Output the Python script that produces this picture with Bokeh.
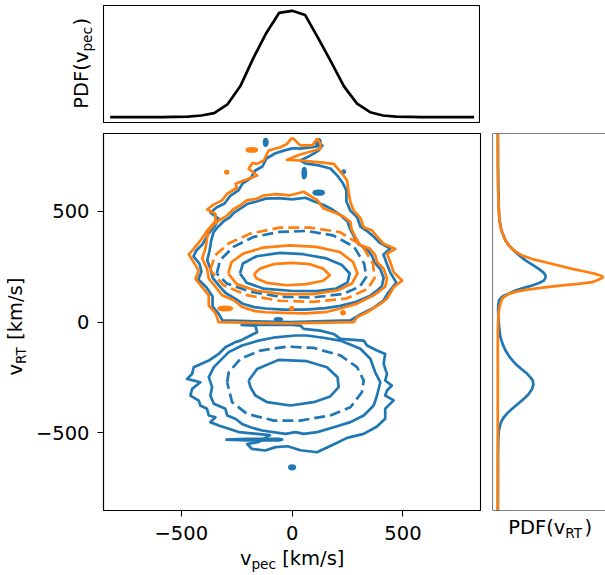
import math
from bokeh.plotting import figure
from bokeh.models import Range1d, FixedTicker, Span
from bokeh.layouts import row, column
from bokeh.core.properties import value
from bokeh.embed import file_html
from bokeh.resources import INLINE

BLUE = "#1f77b4"
ORANGE = "#ff7f0e"
FONT = "DejaVu Sans"
FS = "19.5px"
SFS = "13.65px"

# ---------------- data ----------------
X_TICKS = [-500, 0, 500]
X_TICK_LABELS = ["\u2212500", "0", "500"]
Y_TICKS = [-500, 0, 500]
Y_TICK_LABELS = ["\u2212500", "0", "500"]

# top marginal: PDF(v_pec)
TOP_X = [-821, -762, -703, -645, -586, -528, -469, -410, -352, -293, -234, -176, -117, -59, 0,
         59, 117, 176, 234, 293, 352, 410, 469, 528, 586, 645, 703, 762, 821]
TOP_PDF = [0.0, 0.0, 0.0, 0.001, 0.001, 0.002, 0.005, 0.016, 0.038, 0.117, 0.29, 0.55, 0.79, 0.98, 1.0,
           0.96, 0.745, 0.52, 0.29, 0.127, 0.047, 0.016, 0.005, 0.002, 0.001, 0.0, 0.0, 0.0, 0.0]

# right marginal: PDF(v_RT)
RT_Y_ORANGE = [850, 700, 600, 489, 429, 384, 360, 339, 320, 301, 285, 271, 256, 241, 228, 218, 210, 203,
               195, 188, 181, 173, 166, 156, 146, 137, 128, 115, 105, 85, 68, 40, 8, -38, -850]
RT_PDF_ORANGE = [0.002, 0.003, 0.005, 0.013, 0.028, 0.06, 0.09, 0.123, 0.17, 0.234, 0.33, 0.456, 0.58,
                 0.709, 0.84, 0.931, 0.985, 1.0, 0.975, 0.94, 0.899, 0.77, 0.614, 0.43, 0.266, 0.17,
                 0.108, 0.065, 0.044, 0.028, 0.019, 0.01, 0.006, 0.003, 0.002]
RT_Y_BLUE = [850, 700, 600, 520, 459, 414, 369, 345, 324, 300, 279, 260, 241, 225, 211, 200, 188, 177,
             166, 155, 143, 130, 120, 108, 98, 75, 53, 25, -7, -40, -68, -100, -128, -160, -188, -212,
             -233, -250, -263, -282, -301, -325, -346, -370, -391, -410, -429, -445, -459, -489, -530,
             -600, -850]
RT_PDF_BLUE = [0.004, 0.005, 0.008, 0.012, 0.019, 0.038, 0.076, 0.11, 0.155, 0.21, 0.266, 0.33, 0.392,
               0.435, 0.456, 0.455, 0.44, 0.395, 0.329, 0.25, 0.171, 0.11, 0.06, 0.03, 0.013, 0.008,
               0.006, 0.008, 0.013, 0.02, 0.028, 0.05, 0.076, 0.12, 0.171, 0.23, 0.282, 0.315, 0.335,
               0.34, 0.329, 0.295, 0.25, 0.19, 0.139, 0.095, 0.06, 0.04, 0.028, 0.013, 0.007, 0.005,
               0.004]

# ---- contours (vpec, vRT) in km/s ----
# orange, upper lobe
O_IN_X = [-172, -145, -85, -2, 80, 140, 170, 140, 65, -25, -115, -160, -172]
O_IN_Y = [217, 242, 262, 268, 262, 242, 212, 187, 172, 167, 178, 197, 217]
O_2_X = [-288, -273, -220, -130, -10, 110, 215, 275, 295, 270, 210, 95, -40, -160, -250, -288]
O_2_Y = [220, 272, 310, 337, 347, 340, 317, 272, 220, 175, 145, 127, 127, 142, 172, 220]
O_DASH_X = [-370, -347, -287, -190, -55, 80, 215, 315, 365, 372, 340, 245, 95, -55, -205, -310, -370]
O_DASH_Y = [235, 302, 355, 400, 427, 427, 407, 347, 265, 200, 150, 107, 92, 97, 122, 167, 235]
O_MID_X = [-8, 52, 113, 143, 203, 233, 263, 268, 285, 305, 350, 375, 383, 413, 428, 420, 390, 368, 293,
           218, 158, 60, -40, -120, -166, -226, -263, -316, -346, -376, -384, -406, -391, -384, -376,
           -355, -330, -295, -265, -235, -205, -160, -130, -70, -8]
O_MID_Y = [573, 589, 551, 513, 491, 476, 453, 420, 385, 350, 333, 303, 272, 242, 197, 160, 137, 122, 84,
           62, 47, 40, 42, 45, 50, 69, 99, 122, 160, 197, 242, 288, 333, 378, 415, 440, 460, 480, 510,
           527, 550, 557, 572, 578, 573]
O_OUT_X = [0, -23, -53, -106, -128, -158, -180, -196, -158, -218, -255, -248, -293, -316, -354, -383,
           -346, -346, -383, -414, -444, -466, -444, -421, -436, -406, -376, -376, -346, -331, -23, 278,
           293, 338, 398, 428, 458, 496, 458, 443, 428, 466, 413, 383, 361, 323, 308, 278, 263, 255,
           248, 226, 188, 128, 37, -23, 37, 128, 128, 113, 90, 37, 15, 0]
O_OUT_Y = [833, 805, 790, 775, 730, 715, 718, 693, 662, 640, 625, 607, 580, 550, 531, 509, 489, 456,
           414, 368, 331, 306, 271, 233, 196, 158, 121, 75, 41, 0, -5, 0, 23, 45, 83, 106, 158, 188,
           226, 271, 309, 331, 354, 387, 414, 429, 471, 504, 542, 587, 640, 670, 715, 722, 730, 733,
           757, 783, 805, 828, 798, 798, 820, 833]

# blue, upper lobe
B_IN_T_X = [-235, -222, -160, -55, 50, 155, 225, 260, 250, 200, 110, -10, -130, -205, -235]
B_IN_T_Y = [220, 265, 298, 313, 307, 288, 258, 220, 180, 152, 140, 142, 152, 178, 220]
B_DASH_T_X = [-340, -325, -265, -175, -55, 65, 185, 280, 325, 335, 305, 225, 95, -55, -190, -295, -340]
B_DASH_T_Y = [220, 280, 340, 385, 408, 412, 392, 340, 265, 205, 160, 127, 112, 115, 138, 175, 220]
B_MID_T_X = [0, 60, 100, 140, 180, 220, 250, 262, 280, 300, 338, 360, 372, 398, 413, 405, 380, 350, 290,
             218, 150, 60, -40, -120, -170, -220, -255, -300, -330, -358, -368, -383, -372, -365, -355,
             -335, -310, -280, -262, -230, -200, -160, -120, -60, 0]
B_MID_T_Y = [555, 562, 545, 530, 510, 482, 455, 420, 385, 352, 330, 300, 270, 240, 200, 162, 140, 118,
             92, 74, 64, 57, 57, 62, 68, 82, 105, 132, 165, 200, 240, 280, 325, 370, 405, 430, 455, 475,
             495, 515, 535, 545, 558, 560, 555]
B_OUT_T_X = [6, -30, -75, -116, -134, -166, -188, -224, -242, -278, -305, -341, -368, -332, -350, -377,
             -405, -432, -445, -418, -409, -423, -386, -359, -359, -332, -314, -8, 263, 308, 362, 412,
             434, 470, 443, 425, 412, 443, 394, 362, 335, 308, 294, 263, 245, 245, 227, 204, 173, 119,
             60, 37, 74, 119, 137, 83, 37, 6]
B_OUT_T_Y = [786, 777, 763, 739, 703, 685, 649, 626, 595, 572, 536, 518, 495, 468, 432, 400, 351, 324,
             297, 265, 229, 193, 157, 116, 71, 39, 8, 0, 8, 35, 62, 98, 134, 179, 224, 270, 306, 333,
             360, 392, 414, 432, 473, 504, 545, 595, 631, 662, 694, 708, 717, 730, 748, 775, 798, 789,
             784, 786]

# blue, lower lobe
B_IN_B_X = [-196, -158, -61, 67, 157, 205, 210, 172, 97, -8, -113, -166, -188, -196]
B_IN_B_Y = [-263, -211, -170, -176, -203, -248, -293, -335, -361, -376, -361, -331, -293, -263]
B_DASH_B_X = [-293, -286, -233, -143, -23, 97, 218, 293, 323, 315, 263, 172, 37, -83, -203, -271, -293]
B_DASH_B_Y = [-271, -226, -165, -128, -110, -116, -150, -203, -263, -316, -384, -421, -444, -444, -414,
              -361, -271]
B_MID_B_X = [15, 67, 140, 218, 308, 353, 375, 398, 383, 368, 323, 263, 188, 113, 52, 15, -30, -136, -188,
             -226, -256, -293, -301, -353, -369, -361, -376, -353, -331, -286, -226, -151, -75, 15]
B_MID_B_Y = [-60, -60, -70, -83, -120, -165, -226, -271, -331, -376, -421, -451, -474, -496, -504, -496,
             -504, -489, -474, -459, -436, -421, -391, -368, -331, -293, -248, -203, -180, -135, -105,
             -83, -68, -60]
B_OUT_B_X = [-233, -166, -158, -188, -233, -256, -301, -331, -376, -444, -451, -474, -414, -451, -459,
             -421, -414, -384, -376, -346, -369, -331, -286, -241, -170, -100, -150, -203, -181, -121,
             -75, -20, 37, 112, 187, 248, 323, 383, 420, 420, 458, 420, 428, 450, 420, 428, 413, 420,
             383, 338, 323, 218, 187, 127, 52, 37, 0, -100, -233]
B_OUT_B_Y = [-12, -15, -45, -60, -83, -90, -113, -143, -173, -203, -233, -256, -271, -301, -331, -354,
             -376, -391, -421, -429, -451, -466, -481, -496, -503, -510, -540, -550, -572, -579, -564,
             -560, -578, -587, -552, -522, -504, -471, -436, -391, -353, -331, -308, -286, -263, -233,
             -188, -143, -128, -105, -83, -75, -53, -38, -30, -15, -12, -12, -12]
B_STUB_X = [-301, -200, -60, -45, -60, -200, -301]
B_STUB_Y = [-530, -526, -526, -530, -534, -534, -530]

# small isolated contour islands: centre x, centre y, width, height
ISL_B_X = [-119, 118, 55, 120, 233, -62, 0]
ISL_B_Y = [812, 813, 673, 585, 679, 13, -655]
ISL_B_W = [15, 20, 14, 45, 10, 30, 25]
ISL_B_H = [30, 25, 45, 16, 10, 10, 16]
ISL_O_X = [-182, -295, -302, -2, 230]
ISL_O_Y = [778, 677, 62, 62, 43]
ISL_O_W = [45, 12, 60, 12, 14]
ISL_O_H = [14, 10, 14, 10, 12]

XR = (-851, 850)
YR = (-850, 852)
TYR = (-0.05, 1.05)
RXR = (-0.0475, 1.0256)
LW = 2.7
A = math.pi / 2


def base_fig(**kw):
    p = figure(output_backend="svg", toolbar_location=None, tools="", **kw)
    p.background_fill_color = "white"
    p.border_fill_color = "white"
    p.outline_line_color = "black"
    p.outline_line_width = 1.1
    p.grid.visible = False
    return p


def text_fig(xr, yr, fw, fh, bl=0, br=0, bt=0, bb=0):
    # a blank panel whose frame spans the page-pixel box xr x yr (y range inverted)
    p = figure(output_backend="svg", toolbar_location=None, tools="",
               frame_width=fw, frame_height=fh,
               x_range=Range1d(*xr), y_range=Range1d(*yr),
               min_border_left=bl, min_border_right=br, min_border_top=bt, min_border_bottom=bb,
               x_axis_location=None, y_axis_location=None)
    p.outline_line_color = None
    p.background_fill_color = "white"
    p.border_fill_color = "white"
    p.grid.visible = False
    return p


def put(p, x, y, txt, size=FS, angle=0.0):
    p.text(x=[x], y=[y], text=[txt], angle=angle, text_font=value(FONT), text_font_size=value(size),
           text_color="black", text_align="left", text_baseline="alphabetic")


# ---------------- main panel ----------------
main = base_fig(frame_width=377, frame_height=377, min_border_left=73, min_border_right=2,
                min_border_top=0, min_border_bottom=37,
                x_range=Range1d(*XR), y_range=Range1d(*YR))
for ax, ticks, labels in ((main.xaxis[0], X_TICKS, X_TICK_LABELS), (main.yaxis[0], Y_TICKS, Y_TICK_LABELS)):
    ax.ticker = FixedTicker(ticks=ticks)
    ax.major_label_overrides = {t: l for t, l in zip(ticks, labels)}
    ax.major_label_text_font = FONT
    ax.major_label_text_font_size = FS
    ax.major_label_text_color = "black"
    ax.major_tick_out = 6
    ax.major_tick_in = 0
    ax.major_tick_line_width = 1.1
    ax.major_tick_line_color = "black"
    ax.minor_tick_line_color = None
    ax.axis_line_color = "black"
    ax.axis_line_width = 1.1
main.xaxis.major_label_standoff = 9
main.yaxis.major_label_standoff = 8

blue_solid = [(B_OUT_T_X, B_OUT_T_Y), (B_MID_T_X, B_MID_T_Y), (B_IN_T_X, B_IN_T_Y),
              (B_OUT_B_X, B_OUT_B_Y), (B_MID_B_X, B_MID_B_Y), (B_IN_B_X, B_IN_B_Y),
              (B_STUB_X, B_STUB_Y)]
blue_dash = [(B_DASH_T_X, B_DASH_T_Y), (B_DASH_B_X, B_DASH_B_Y)]
orange_solid = [(O_OUT_X, O_OUT_Y), (O_MID_X, O_MID_Y), (O_2_X, O_2_Y), (O_IN_X, O_IN_Y)]
orange_dash = [(O_DASH_X, O_DASH_Y)]

main.multi_line(xs=[c[0] for c in blue_solid], ys=[c[1] for c in blue_solid],
                line_color=BLUE, line_width=LW, line_join="round")
main.multi_line(xs=[c[0] for c in blue_dash], ys=[c[1] for c in blue_dash],
                line_color=BLUE, line_width=LW, line_dash="11 5")
main.ellipse(x=ISL_B_X, y=ISL_B_Y, width=ISL_B_W, height=ISL_B_H,
             line_color=BLUE, line_width=LW, fill_color=BLUE)
main.multi_line(xs=[c[0] for c in orange_solid], ys=[c[1] for c in orange_solid],
                line_color=ORANGE, line_width=LW, line_join="round")
main.multi_line(xs=[c[0] for c in orange_dash], ys=[c[1] for c in orange_dash],
                line_color=ORANGE, line_width=LW, line_dash="11 5")
main.ellipse(x=ISL_O_X, y=ISL_O_Y, width=ISL_O_W, height=ISL_O_H,
             line_color=ORANGE, line_width=LW, fill_color=ORANGE)

# ---------------- top marginal ----------------
top = base_fig(frame_width=377, frame_height=117, min_border_left=1, min_border_right=0,
               min_border_top=5, min_border_bottom=11,
               x_range=Range1d(*XR), y_range=Range1d(*TYR),
               x_axis_location=None, y_axis_location=None)
top.line(TOP_X, TOP_PDF, line_color="black", line_width=LW, line_join="round")

# ---------------- right marginal ----------------
right = base_fig(frame_width=113, frame_height=377, min_border_left=10, min_border_right=0,
                 min_border_top=0, min_border_bottom=2,
                 x_range=Range1d(*RXR), y_range=Range1d(*YR),
                 x_axis_location=None, y_axis_location=None)
right.outline_line_color = None
right.add_layout(Span(location=RXR[0], dimension="height", line_color="black", line_width=1.1))
right.add_layout(Span(location=YR[0], dimension="width", line_color="black", line_width=1.1))
right.add_layout(Span(location=YR[1], dimension="width", line_color="black", line_width=1.1))
right.line(RT_PDF_BLUE, RT_Y_BLUE, line_color=BLUE, line_width=LW, line_join="round")
right.line(RT_PDF_ORANGE, RT_Y_ORANGE, line_color=ORANGE, line_width=LW, line_join="round")

# ---------------- axis-title panels (coordinates = page pixels) ----------------
top_lab = text_fig((0, 102), (122, 5), 102, 117, bt=5, bb=11)       # PDF(v_pec)
put(top_lab, 80.7, 108.2, "PDF(", angle=A)
put(top_lab, 80.7, 62.6, "v", angle=A)
put(top_lab, 86.8, 51.1, "pec", size=SFS, angle=A)
put(top_lab, 80.7, 25.0, ")", angle=A)

y_lab = text_fig((0, 30), (575, 133), 30, 442)                      # v_RT [km/s]
put(y_lab, 15.2, 374.9, "v", angle=A)
put(y_lab, 20.8, 363.4, "RT", size=SFS, angle=A)
put(y_lab, 15.2, 339.4, "[km/s]", angle=A)

x_lab = text_fig((103, 480), (575, 547), 377, 28, bl=73, br=2)     # v_pec [km/s]
put(x_lab, 239.4, 557.7, "v")
put(x_lab, 250.9, 563.8, "pec", size=SFS)
put(x_lab, 281.7, 557.7, "[km/s]")

r_lab = text_fig((492, 605), (575, 512), 113, 63, bl=10)           # PDF(v_RT)
put(r_lab, 507.7, 526.7, "PDF(")
put(r_lab, 553.3, 526.7, "v")
put(r_lab, 564.8, 532.8, "RT", size=SFS)
put(r_lab, 584.1, 526.7, ")")

layout = column(
    row(top_lab, top),
    row(y_lab, column(main, x_lab), column(right, r_lab)),
)
open("out.html", "w").write(file_html(layout, INLINE))
